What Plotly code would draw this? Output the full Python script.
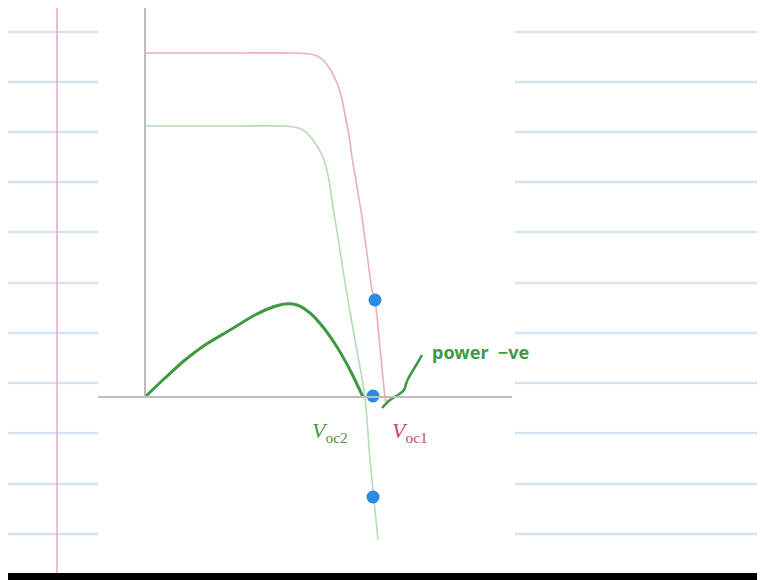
import plotly.graph_objects as go

# coordinates are measured from the origin of the sketched axes
red_iv_v = [0, 80, 150, 165, 172, 178, 185, 192, 197, 200, 204, 207, 212, 217, 222, 227, 230, 235, 240, 242]
red_iv_i = [344, 344, 344, 343, 341, 337, 328, 314, 298, 282, 262, 240, 210, 180, 143, 107, 97, 50, 0, -8]

green_iv_v = [0, 80, 140, 148, 156, 163, 170, 177, 183, 188, 195, 200, 210, 220, 225, 233]
green_iv_i = [271, 271, 271, 270, 268, 263, 254, 242, 222, 190, 147, 114, 57, 0, -63, -143]

power_v = [0, 20, 40, 60, 85, 110, 128, 140, 152, 165, 178, 192, 205, 218]
power_p = [0, 19, 37, 52, 67, 82, 90, 93, 92, 84, 70, 50, 27, 0]

dots_v = [230, 228, 228]
dots_i = [97, 1, -100]

note_v = [237, 245, 253, 259, 261, 263, 267, 273, 277]
note_i = [-11, -3, 2, 7, 13, 18, 25, 35, 42]

rule_rows = [365, 315, 265, 215, 165, 114, 64, 14, -36, -87, -137]

fig = go.Figure()

# notebook ruling
for r in rule_rows:
    fig.add_shape(type='line', x0=-137, x1=-47, y0=r, y1=r,
                  line=dict(color='#d3e3f1', width=2.5), layer='below')
    fig.add_shape(type='line', x0=370, x1=628, y0=r, y1=r,
                  line=dict(color='#d3e3f1', width=2.5), layer='below')
fig.add_shape(type='line', x0=-88, x1=-88, y0=392, y1=-185,
              line=dict(color='#e4a8c8', width=1.5))
fig.add_shape(type='rect', xref='paper', yref='paper', x0=0, x1=1, y0=0, y1=0.026,
              fillcolor='black', line=dict(width=0))

# sketched axes
fig.add_shape(type='line', x0=0, x1=0, y0=0, y1=394, line=dict(color='#bdbdbd', width=2))
fig.add_shape(type='line', x0=-47, x1=367, y0=0, y1=0, line=dict(color='#bdbdbd', width=2))

fig.add_trace(go.Scatter(x=red_iv_v, y=red_iv_i, mode='lines',
                         line=dict(color='#eab0b8', width=1.6, shape='spline', smoothing=0.6)))
fig.add_trace(go.Scatter(x=green_iv_v, y=green_iv_i, mode='lines',
                         line=dict(color='#b4dcb4', width=1.6, shape='spline', smoothing=0.6)))
fig.add_trace(go.Scatter(x=power_v, y=power_p, mode='lines',
                         line=dict(color='#3f9a3f', width=3, shape='spline', smoothing=0.8)))
fig.add_trace(go.Scatter(x=note_v, y=note_i, mode='lines',
                         line=dict(color='#3f9a3f', width=2.5, shape='spline')))
fig.add_trace(go.Scatter(x=dots_v, y=dots_i, mode='markers', marker=dict(color='#2b8be3', size=13)))

fig.add_annotation(x=185, y=-35, text='<i>V</i><sub>oc2</sub>', showarrow=False,
                   font=dict(family='Liberation Serif', size=22, color='#4d8f4d'))
fig.add_annotation(x=265, y=-35, text='<i>V</i><sub>oc1</sub>', showarrow=False,
                   font=dict(family='Liberation Serif', size=22, color='#c44a62'))
fig.add_annotation(x=285, y=45, text='<b>power  −ve</b>', showarrow=False, xanchor='left',
                   font=dict(family='Noto Sans', size=18, color='#3f9a3f'))

# the page body adds an 8px offset, so the ranges are shifted to match
fig.update_layout(width=765, height=580, autosize=False, showlegend=False,
                  margin=dict(l=0, r=0, t=0, b=0),
                  plot_bgcolor='white', paper_bgcolor='white',
                  xaxis=dict(range=[-137, 628], visible=False, fixedrange=True),
                  yaxis=dict(range=[-191, 389], visible=False, fixedrange=True))

fig.write_html("out.html")
